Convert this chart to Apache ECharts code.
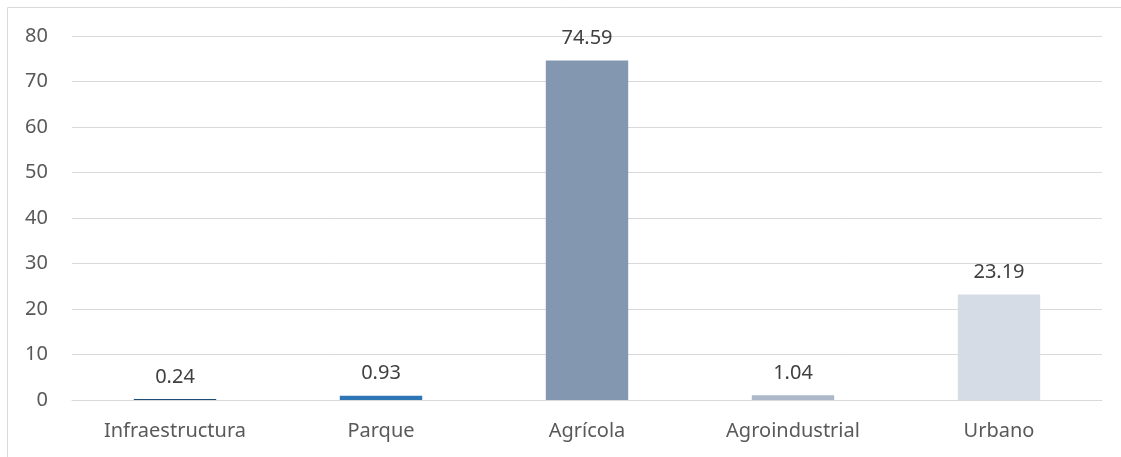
<!DOCTYPE html>
<html>
<head>
<meta charset="utf-8">
<script src="https://cdn.jsdelivr.net/npm/echarts@6/dist/echarts.min.js"></script>
<style>
  html, body { margin: 0; padding: 0; background: #fff; }
  #main { width: 1121px; height: 457px; }
</style>
</head>
<body>
<div id="main"></div>
<script>
// datos del grafico
var categorias = ["Infraestructura", "Parque", "Agrícola", "Agroindustrial", "Urbano"];
var valores = [0.24, 0.93, 74.59, 1.04, 23.19];
var colores = ["#1f4e79", "#2e75b6", "#8497b0", "#adb9ca", "#d6dce5"];

var chart = echarts.init(document.getElementById("main"));
var fuente = "Noto Sans";

var option = {
  animation: false,
  textStyle: { fontFamily: fuente },
  graphic: [
    // marco del grafico
    { type: "line", shape: { x1: 7.5, y1: 7.5, x2: 1121, y2: 7.5 }, style: { stroke: "#d9d9d9", lineWidth: 1 } },
    { type: "line", shape: { x1: 7.5, y1: 7.5, x2: 7.5, y2: 457 }, style: { stroke: "#d9d9d9", lineWidth: 1 } }
  ],
  grid: { left: 72, right: 19, top: 36, bottom: 57, containLabel: false },
  xAxis: {
    type: "category",
    data: categorias,
    axisTick: { show: false },
    axisLine: { lineStyle: { color: "#d9d9d9", width: 1 } },
    axisLabel: { color: "#595959", fontSize: 20, margin: 21, fontFamily: fuente }
  },
  yAxis: {
    type: "value",
    min: 0,
    max: 80,
    interval: 10,
    axisLine: { show: false },
    axisTick: { show: false },
    splitLine: { lineStyle: { color: "#d9d9d9", width: 1 } },
    axisLabel: { color: "#595959", fontSize: 20, margin: 24, fontFamily: fuente }
  },
  series: [
    {
      type: "bar",
      barWidth: "40%",
      data: valores.map(function (v, i) {
        return { value: v, itemStyle: { color: colores[i] } };
      }),
      label: {
        show: true,
        position: "top",
        distance: 12,
        color: "#404040",
        fontSize: 20,
        fontFamily: fuente
      }
    }
  ]
};
chart.setOption(option);
</script>
</body>
</html>
